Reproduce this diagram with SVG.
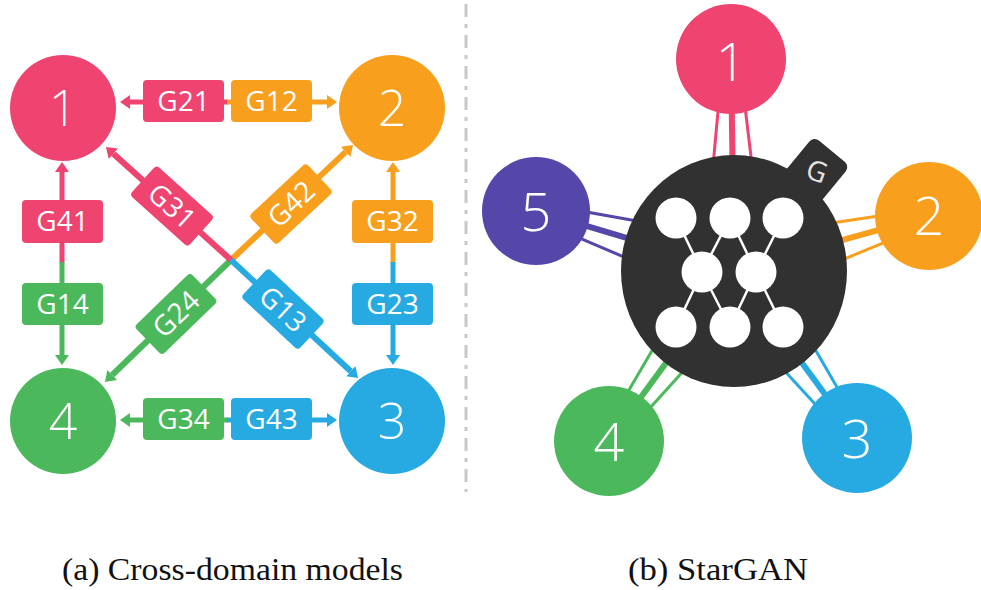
<svg xmlns="http://www.w3.org/2000/svg" width="981" height="590" viewBox="0 0 981 590">
  <defs>
    <style>
      .pink { fill: #EF4370; }
      .orange { fill: #F8A01E; }
      .green { fill: #4CB85C; }
      .blue { fill: #27AAE1; }
      .purple { fill: #5447A9; }
      .ln { fill: none; stroke-width: 5; }
      .dg { fill: none; stroke-width: 6; }
      .s-pink { stroke: #EF4370; }
      .s-orange { stroke: #F8A01E; }
      .s-green { stroke: #4CB85C; }
      .s-blue { stroke: #27AAE1; }
      .s-purple { stroke: #5447A9; }
      .lbl { font-family: "Open Sans", "Noto Sans", sans-serif; font-size: 28px; fill: #ffffff; text-anchor: middle; }
      .num { font-family: "Open Sans", "Noto Sans", sans-serif; font-weight: 300; fill: #ffffff; text-anchor: middle; }
      .cap { font-family: "Liberation Serif", "DejaVu Serif", serif; font-size: 32px; fill: #111111; }
      .spoke-mid { stroke-width: 6; }
      .spoke-side { stroke-width: 3; }
      .net { stroke: #ffffff; stroke-width: 2.5; fill: none; }
    </style>
    <marker id="ah-pink" viewBox="0 0 10 14" markerWidth="10" markerHeight="14" refX="0" refY="7" orient="auto" markerUnits="userSpaceOnUse"><path d="M0,0L10,7L0,14z" fill="#EF4370"/></marker>
    <marker id="ah-orange" viewBox="0 0 10 14" markerWidth="10" markerHeight="14" refX="0" refY="7" orient="auto" markerUnits="userSpaceOnUse"><path d="M0,0L10,7L0,14z" fill="#F8A01E"/></marker>
    <marker id="ah-green" viewBox="0 0 10 14" markerWidth="10" markerHeight="14" refX="0" refY="7" orient="auto" markerUnits="userSpaceOnUse"><path d="M0,0L10,7L0,14z" fill="#4CB85C"/></marker>
    <marker id="ah-blue" viewBox="0 0 10 14" markerWidth="10" markerHeight="14" refX="0" refY="7" orient="auto" markerUnits="userSpaceOnUse"><path d="M0,0L10,7L0,14z" fill="#27AAE1"/></marker>
  </defs>

  <rect width="981" height="590" fill="#ffffff"/>

  <!-- (a) cross-domain models: one generator per ordered pair of domains -->
  <g id="connectors-a">
    <!-- diagonals, meeting in the middle -->
    <path class="dg s-orange" d="M231,260 L345.7,151.9" marker-end="url(#ah-orange)"/>
    <path class="dg s-green" d="M231,260 L112.2,375" marker-end="url(#ah-green)"/>
    <path class="dg s-pink" d="M231,260 L113.4,153.7" marker-end="url(#ah-pink)"/>
    <path class="dg s-blue" d="M231,260 L350.7,371.2" marker-end="url(#ah-blue)"/>
    <!-- top and bottom -->
    <path class="ln s-pink" d="M228,102 H130" marker-end="url(#ah-pink)"/>
    <path class="ln s-orange" d="M227,102 H327" marker-end="url(#ah-orange)"/>
    <path class="ln s-green" d="M228,420 H130" marker-end="url(#ah-green)"/>
    <path class="ln s-blue" d="M227,420 H327" marker-end="url(#ah-blue)"/>
    <!-- left and right -->
    <path class="ln s-pink" d="M62,263 V172" marker-end="url(#ah-pink)"/>
    <path class="ln s-green" d="M62,262 V355" marker-end="url(#ah-green)"/>
    <path class="ln s-orange" d="M393,263 V172" marker-end="url(#ah-orange)"/>
    <path class="ln s-blue" d="M393,262 V355" marker-end="url(#ah-blue)"/>

    <!-- generator labels -->
    <g id="g21"><rect class="pink" x="143" y="80" width="81" height="42" rx="4"/><text class="lbl" x="183.5" y="111">G21</text></g>
    <g id="g12"><rect class="orange" x="231" y="80" width="81" height="42" rx="4"/><text class="lbl" x="271.5" y="111">G12</text></g>
    <g id="g34"><rect class="green" x="143" y="398" width="81" height="42" rx="4"/><text class="lbl" x="183.5" y="429">G34</text></g>
    <g id="g43"><rect class="blue" x="231" y="398" width="81" height="42" rx="4"/><text class="lbl" x="271.5" y="429">G43</text></g>
    <g id="g41"><rect class="pink" x="22" y="200" width="81" height="43" rx="4"/><text class="lbl" x="62.5" y="231">G41</text></g>
    <g id="g14"><rect class="green" x="22" y="283" width="81" height="42" rx="4"/><text class="lbl" x="62.5" y="314">G14</text></g>
    <g id="g32"><rect class="orange" x="352" y="200" width="81" height="43" rx="4"/><text class="lbl" x="392.5" y="231">G32</text></g>
    <g id="g23"><rect class="blue" x="352" y="283" width="81" height="42" rx="4"/><text class="lbl" x="392.5" y="314">G23</text></g>
    <g id="g31" transform="translate(172,206) rotate(42)"><rect class="pink" x="-39" y="-20" width="78" height="40" rx="4"/><text class="lbl" x="0" y="10">G31</text></g>
    <g id="g42" transform="translate(291,204) rotate(-43)"><rect class="orange" x="-39" y="-20" width="78" height="40" rx="4"/><text class="lbl" x="0" y="10">G42</text></g>
    <g id="g24" transform="translate(176,314) rotate(-44)"><rect class="green" x="-39" y="-20" width="78" height="40" rx="4"/><text class="lbl" x="0" y="10">G24</text></g>
    <g id="g13" transform="translate(283,309) rotate(43)"><rect class="blue" x="-39" y="-20" width="78" height="40" rx="4"/><text class="lbl" x="0" y="10">G13</text></g>
  </g>

  <g id="a-node-1"><circle class="pink" cx="63" cy="108" r="53"/><text class="num" x="63" y="126" font-size="50">1</text></g>
  <g id="a-node-2"><circle class="orange" cx="392" cy="108" r="53"/><text class="num" x="392" y="126" font-size="50">2</text></g>
  <g id="a-node-3"><circle class="blue" cx="392" cy="421" r="53"/><text class="num" x="392" y="439" font-size="50">3</text></g>
  <g id="a-node-4"><circle class="green" cx="63" cy="421" r="53"/><text class="num" x="63" y="439" font-size="50">4</text></g>

  <!-- separator -->
  <line x1="466" y1="4" x2="466" y2="492" stroke="#c8c8c8" stroke-width="3" stroke-dasharray="13 7 4 7"/>

  <!-- (b) StarGAN: one generator shared by all domains -->
  <g id="connectors-b">
    <g transform="translate(734,270) rotate(-90.8)">
      <line class="s-pink spoke-mid" x1="100" y1="0" x2="166" y2="0"/>
      <line class="s-pink spoke-side" x1="100" y1="-20" x2="166" y2="-13"/>
      <line class="s-pink spoke-side" x1="100" y1="20" x2="166" y2="13"/>
    </g>
    <g transform="translate(734,270) rotate(-15.5)">
      <line class="s-orange spoke-mid" x1="100" y1="0" x2="157" y2="0"/>
      <line class="s-orange spoke-side" x1="100" y1="-20" x2="157" y2="-13"/>
      <line class="s-orange spoke-side" x1="100" y1="20" x2="157" y2="13"/>
    </g>
    <g transform="translate(734,270) rotate(53.8)">
      <line class="s-blue spoke-mid" x1="100" y1="0" x2="163" y2="0"/>
      <line class="s-blue spoke-side" x1="100" y1="-20" x2="163" y2="-13"/>
      <line class="s-blue spoke-side" x1="100" y1="20" x2="163" y2="13"/>
    </g>
    <g transform="translate(734,270) rotate(126.2)">
      <line class="s-green spoke-mid" x1="100" y1="0" x2="167" y2="0"/>
      <line class="s-green spoke-side" x1="100" y1="-20" x2="167" y2="-13"/>
      <line class="s-green spoke-side" x1="100" y1="20" x2="167" y2="13"/>
    </g>
    <g transform="translate(734,270) rotate(196.6)">
      <line class="s-purple spoke-mid" x1="100" y1="0" x2="162" y2="0"/>
      <line class="s-purple spoke-side" x1="100" y1="-20" x2="162" y2="-13"/>
      <line class="s-purple spoke-side" x1="100" y1="20" x2="162" y2="13"/>
    </g>
  </g>

  <g id="generator">
    <ellipse cx="734" cy="271" rx="113" ry="116" fill="#313131"/>
    <rect x="95" y="-23.5" width="59" height="47" rx="7" fill="#313131" transform="translate(734,270) rotate(-50.5)"/>
    <text x="817" y="181" font-family="Open Sans, Noto Sans, sans-serif" font-size="28" fill="#e4e4e4" text-anchor="middle" transform="rotate(20 817 171)">G</text>
    <g class="net">
      <line x1="676" y1="218" x2="702" y2="272"/>
      <line x1="730" y1="218" x2="702" y2="272"/>
      <line x1="730" y1="218" x2="756" y2="272"/>
      <line x1="783" y1="218" x2="756" y2="272"/>
      <line x1="676" y1="327" x2="702" y2="272"/>
      <line x1="730" y1="327" x2="702" y2="272"/>
      <line x1="730" y1="327" x2="756" y2="272"/>
      <line x1="783" y1="327" x2="756" y2="272"/>
    </g>
    <g fill="#ffffff">
      <circle cx="676" cy="218" r="20.5"/>
      <circle cx="730" cy="218" r="20.5"/>
      <circle cx="783" cy="218" r="20.5"/>
      <circle cx="702" cy="272" r="20.5"/>
      <circle cx="756" cy="272" r="20.5"/>
      <circle cx="676" cy="327" r="20.5"/>
      <circle cx="730" cy="327" r="20.5"/>
      <circle cx="783" cy="327" r="20.5"/>
    </g>
  </g>

  <g id="b-node-1"><circle class="pink" cx="731" cy="59" r="55"/><text class="num" x="731" y="81" font-size="54">1</text></g>
  <g id="b-node-2"><circle class="orange" cx="929" cy="216" r="54"/><text class="num" x="929" y="235" font-size="54">2</text></g>
  <g id="b-node-3"><circle class="blue" cx="857" cy="438" r="55"/><text class="num" x="857" y="458" font-size="54">3</text></g>
  <g id="b-node-4"><circle class="green" cx="609" cy="441" r="55"/><text class="num" x="609" y="461" font-size="54">4</text></g>
  <g id="b-node-5"><circle class="purple" cx="536" cy="211" r="54"/><text class="num" x="536" y="231" font-size="54">5</text></g>

  <!-- captions -->
  <text class="cap" x="62" y="580" textLength="341" lengthAdjust="spacingAndGlyphs">(a) Cross-domain models</text>
  <text class="cap" x="628" y="580" textLength="180" lengthAdjust="spacingAndGlyphs">(b) StarGAN</text>
</svg>
